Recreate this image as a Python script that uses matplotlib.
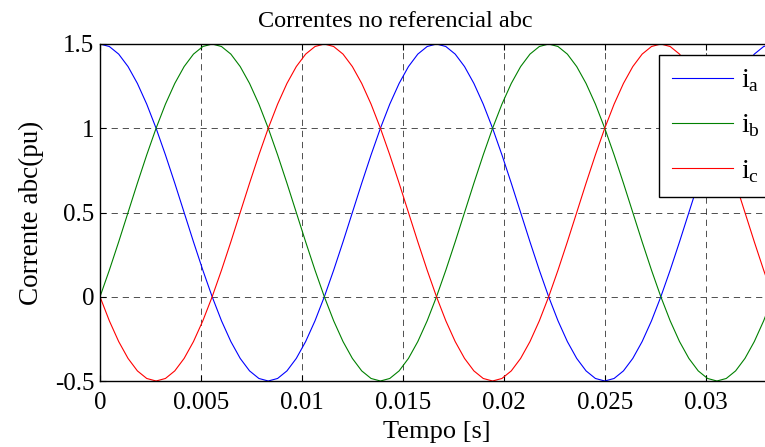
import numpy as np
import matplotlib
matplotlib.use("Agg")
import matplotlib.pyplot as plt

plt.rcParams['font.family'] = ['Liberation Serif', 'DejaVu Serif']
plt.rcParams['mathtext.fontset'] = 'custom'
plt.rcParams['mathtext.rm'] = 'Liberation Serif'
plt.rcParams['lines.scale_dashes'] = False

# sample step (s): 10 degrees of a 60 Hz wave
dt = 1.0 / 2160.0

ia = [1.500, 1.485, 1.440, 1.366, 1.266, 1.143, 1.000, 0.842, 0.674, 0.500, 0.326, 0.158,
      0.000, -0.143, -0.266, -0.366, -0.440, -0.485, -0.500, -0.485, -0.440, -0.366, -0.266, -0.143,
      0.000, 0.158, 0.326, 0.500, 0.674, 0.842, 1.000, 1.143, 1.266, 1.366, 1.440, 1.485,
      1.500, 1.485, 1.440, 1.366, 1.266, 1.143, 1.000, 0.842, 0.674, 0.500, 0.326, 0.158,
      0.000, -0.143, -0.266, -0.366, -0.440, -0.485, -0.500, -0.485, -0.440, -0.366, -0.266, -0.143,
      0.000, 0.158, 0.326, 0.500, 0.674, 0.842, 1.000, 1.143, 1.266, 1.366, 1.440, 1.485,
      1.500]

ib = [0.000, 0.158, 0.326, 0.500, 0.674, 0.842, 1.000, 1.143, 1.266, 1.366, 1.440, 1.485,
      1.500, 1.485, 1.440, 1.366, 1.266, 1.143, 1.000, 0.842, 0.674, 0.500, 0.326, 0.158,
      0.000, -0.143, -0.266, -0.366, -0.440, -0.485, -0.500, -0.485, -0.440, -0.366, -0.266, -0.143,
      0.000, 0.158, 0.326, 0.500, 0.674, 0.842, 1.000, 1.143, 1.266, 1.366, 1.440, 1.485,
      1.500, 1.485, 1.440, 1.366, 1.266, 1.143, 1.000, 0.842, 0.674, 0.500, 0.326, 0.158,
      0.000, -0.143, -0.266, -0.366, -0.440, -0.485, -0.500, -0.485, -0.440, -0.366, -0.266, -0.143,
      0.000]

ic = [0.000, -0.143, -0.266, -0.366, -0.440, -0.485, -0.500, -0.485, -0.440, -0.366, -0.266, -0.143,
      0.000, 0.158, 0.326, 0.500, 0.674, 0.842, 1.000, 1.143, 1.266, 1.366, 1.440, 1.485,
      1.500, 1.485, 1.440, 1.366, 1.266, 1.143, 1.000, 0.842, 0.674, 0.500, 0.326, 0.158,
      0.000, -0.143, -0.266, -0.366, -0.440, -0.485, -0.500, -0.485, -0.440, -0.366, -0.266, -0.143,
      0.000, 0.158, 0.326, 0.500, 0.674, 0.842, 1.000, 1.143, 1.266, 1.366, 1.440, 1.485,
      1.500, 1.485, 1.440, 1.366, 1.266, 1.143, 1.000, 0.842, 0.674, 0.500, 0.326, 0.158,
      0.000]

labels = [r'$\mathrm{i}_{\mathrm{a}}$', r'$\mathrm{i}_{\mathrm{b}}$', r'$\mathrm{i}_{\mathrm{c}}$']
xticks = [0, 0.005, 0.01, 0.015, 0.02, 0.025, 0.03]
xticklabels = ['0', '0.005', '0.01', '0.015', '0.02', '0.025', '0.03']
yticks = [-0.5, 0, 0.5, 1, 1.5]
yticklabels = ['-0.5', '0', '0.5', '1', '1.5']

t = np.arange(len(ia)) * dt

W, H = 765, 447
fig = plt.figure(figsize=(W / 100, H / 100), dpi=100)
ax = fig.add_axes([100 / W, (H - 381) / H, 673 / W, 337 / H])

ax.plot(t, ia, color=(0, 0, 1), lw=0.8, label=labels[0])
ax.plot(t, ib, color=(0, 0.5, 0), lw=0.8, label=labels[1])
ax.plot(t, ic, color=(1, 0, 0), lw=0.8, label=labels[2])

ax.set_xlim(0, t[-1])
ax.set_ylim(-0.5, 1.5)
ax.set_xticks(xticks)
ax.set_xticklabels(xticklabels)
ax.set_yticks(yticks)
ax.set_yticklabels(yticklabels)
ax.tick_params(direction='in', top=True, right=True, length=4, width=0.8,
               labelsize=18)
ax.tick_params(axis='x', pad=8)
ax.tick_params(axis='y', pad=4)
ax.grid(True, color='#333333', linestyle=(0, (4.5, 3.5)), linewidth=0.6)
for s in ax.spines.values():
    s.set_linewidth(1.0)
    s.set_color('black')

ax.set_title('Correntes no referencial abc', fontsize=17.5, pad=12.5,
             x=(395 - 100) / 673)
ax.set_xlabel('Tempo [s]', fontsize=19, labelpad=5)
ax.set_ylabel('Corrente abc(pu)', fontsize=19.5, labelpad=8)

leg = ax.legend(loc='upper left', bbox_to_anchor=(659 / W, 1 - 55 / H),
                bbox_transform=fig.transFigure, borderaxespad=0,
                fontsize=20, frameon=True, fancybox=False, framealpha=1,
                edgecolor='black', handlelength=2.2, handletextpad=0.3,
                labelspacing=0.66, borderpad=0.45)
leg.get_frame().set_linewidth(1.0)

fig.savefig('out.png', dpi=100)
